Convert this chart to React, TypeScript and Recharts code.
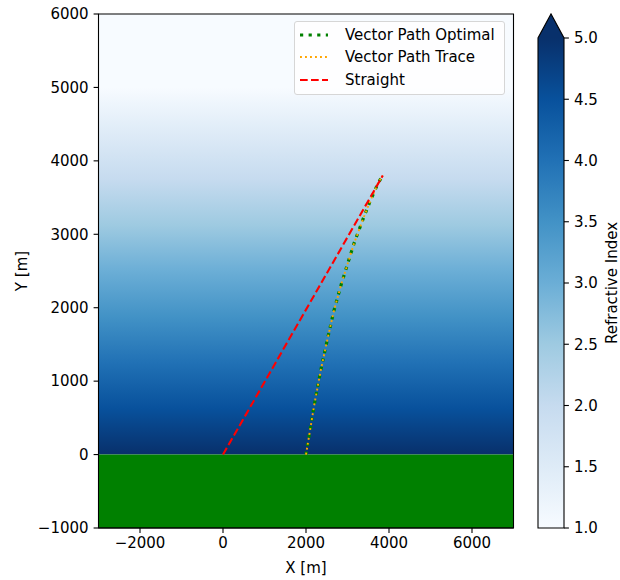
import {
  ComposedChart,
  Line,
  XAxis,
  YAxis,
  ReferenceArea,
} from "recharts";

const FONT = "DejaVu Sans";
const FS = 15;

// axis ticks
const xTicks = [-2000, 0, 2000, 4000, 6000];
const yTicks = [-1000, 0, 1000, 2000, 3000, 4000, 5000, 6000];
const cbTicks = [1.0, 1.5, 2.0, 2.5, 3.0, 3.5, 4.0, 4.5, 5.0];

// ray path (x, y in metres)
const pathX = [2000, 2200, 2360, 2520, 2680, 2860, 2960, 3160, 3370, 3560, 3740, 3850];
const pathY = [0, 680, 1160, 1580, 1975, 2340, 2520, 2880, 3200, 3470, 3700, 3800];

// straight line from source to receiver
const straightX = [0, 3850];
const straightY = [0, 3800];

// refractive index profile: n = 5 at ground, falls to 1 at this height
const nTopHeight = 5000;
const nMin = 1;
const nMax = 5;

// matplotlib "Blues"
const blues = ["#f7fbff", "#deebf7", "#c6dbef", "#9ecae1", "#6baed6", "#4292c6", "#2171b5", "#08519c", "#08306b"];

const GREEN = "#008000";
const ORANGE = "#ffa500";
const RED = "#ff0000";

const optimal = pathX.map((x, i) => ({ x, y: pathY[i] }));
const straight = straightX.map((x, i) => ({ x, y: straightY[i] }));
const cbData = cbTicks.map((n) => ({ x: 0.5, n }));

const fmt = (v: number) => (v < 0 ? "\u2212" + Math.abs(v) : String(v));

const tickStyle = { fontFamily: FONT, fontSize: FS, fill: "#000" };

const legendItems = [
  { label: "Vector Path Optimal", color: GREEN, width: 3.2, dash: "3.2 5.4" },
  { label: "Vector Path Trace", color: ORANGE, width: 1.9, dash: "1.9 3.1" },
  { label: "Straight", color: RED, width: 2.1, dash: "7.7 3.3" },
];

function LegendBox() {
  return (
    <div
      style={{
        position: "absolute",
        left: 294,
        top: 21,
        width: 211,
        height: 74,
        boxSizing: "border-box",
        border: "1px solid #d6d6d6",
        borderRadius: 3,
        background: "rgba(255,255,255,0.8)",
        fontFamily: FONT,
        fontSize: FS,
        color: "#000",
        paddingTop: 2,
      }}
    >
      {legendItems.map((it) => (
        <div key={it.label} style={{ display: "flex", alignItems: "center", height: 22.3, whiteSpace: "nowrap" }}>
          <svg width={50} height={10} style={{ flex: "none" }}>
            <line x1={5} x2={33} y1={5} y2={5} stroke={it.color} strokeWidth={it.width} strokeDasharray={it.dash} />
          </svg>
          <span>{it.label}</span>
        </div>
      ))}
    </div>
  );
}

function ColorbarShape(props: any) {
  const { x, y, width, height } = props;
  const apex = 24;
  const outline = `M${x},${y + height} L${x},${y} L${x + width / 2},${y - apex} L${x + width},${y} L${x + width},${y + height} Z`;
  return (
    <g>
      <rect x={x} y={y} width={width} height={height} fill="url(#cbGrad)" />
      <path d={`M${x},${y} L${x + width / 2},${y - apex} L${x + width},${y} Z`} fill={blues[8]} />
      <path d={outline} fill="none" stroke="#000" strokeWidth={1.1} />
    </g>
  );
}

function CbLabel(props: any) {
  const vb = props.viewBox || {};
  const cx = 111.5;
  const cy = vb.y + vb.height / 2;
  return (
    <text
      x={cx}
      y={cy}
      transform={`rotate(-90 ${cx} ${cy})`}
      textAnchor="middle"
      dominantBaseline="central"
      style={tickStyle}
    >
      Refractive Index
    </text>
  );
}

export default function App() {
  const bgTop = (6000 - nTopHeight) / 6000; // part of the 0..6000 box above the n = 1 height
  return (
    <div style={{ position: "absolute", left: 0, top: 0, width: 620, height: 580, background: "#fff" }}>
      <div style={{ position: "absolute", left: 0, top: 0 }}>
        <ComposedChart width={540} height={580} margin={{ top: 14, right: 26.5, bottom: 12, left: 38.5 }}>
          <defs>
            <linearGradient id="bgGrad" x1="0" y1="0" x2="0" y2="1">
              <stop offset={0} stopColor={blues[0]} />
              {blues.map((c, i) => (
                <stop key={i} offset={bgTop + (1 - bgTop) * (i / 8)} stopColor={c} />
              ))}
            </linearGradient>
          </defs>
          <XAxis
            dataKey="x"
            type="number"
            domain={[-3000, 7000]}
            ticks={xTicks}
            tickFormatter={fmt}
            allowDataOverflow
            height={40}
            tick={tickStyle}
            tickSize={4.9}
            tickMargin={4}
            stroke="#000"
            tickLine={{ stroke: "#000", strokeWidth: 1.1 }}
            label={{ value: "X [m]", position: "insideBottom", offset: -5, style: { ...tickStyle, textAnchor: "middle" } }}
          />
          <YAxis
            dataKey="y"
            type="number"
            domain={[-1000, 6000]}
            ticks={yTicks}
            tickFormatter={fmt}
            allowDataOverflow
            width={60}
            tick={tickStyle}
            tickSize={4.9}
            tickMargin={5}
            stroke="#000"
            tickLine={{ stroke: "#000", strokeWidth: 1.1 }}
            label={{ value: "Y [m]", angle: -90, position: "insideLeft", offset: -17, style: { ...tickStyle, textAnchor: "middle" } }}
          />
          <ReferenceArea x1={-3000} x2={7000} y1={0} y2={6000} fill="url(#bgGrad)" fillOpacity={1} stroke="none" />
          <ReferenceArea x1={-3000} x2={7000} y1={-1000} y2={0} fill={GREEN} fillOpacity={1} stroke="none" />
          <Line
            data={optimal}
            dataKey="y"
            type="linear"
            stroke={GREEN}
            strokeWidth={3.2}
            strokeDasharray="3.2 5.4"
            dot={false}
            activeDot={false}
            isAnimationActive={false}
          />
          <Line
            data={optimal}
            dataKey="y"
            type="linear"
            stroke={ORANGE}
            strokeWidth={1.9}
            strokeDasharray="1.9 3.1"
            dot={false}
            activeDot={false}
            isAnimationActive={false}
          />
          <Line
            data={straight}
            dataKey="y"
            type="linear"
            stroke={RED}
            strokeWidth={2.1}
            strokeDasharray="7.7 3.3"
            dot={false}
            activeDot={false}
            isAnimationActive={false}
          />
          <ReferenceArea x1={-3000} x2={7000} y1={-1000} y2={6000} fill="none" stroke="#000" strokeWidth={1.1} />
        </ComposedChart>
      </div>
      <LegendBox />
      <div style={{ position: "absolute", left: 500, top: 0 }}>
        <ComposedChart width={120} height={580} data={cbData} margin={{ top: 38, right: 0, bottom: 52, left: 38 }}>
          <defs>
            <linearGradient id="cbGrad" x1="0" y1="1" x2="0" y2="0">
              {blues.map((c, i) => (
                <stop key={i} offset={i / 8} stopColor={c} />
              ))}
            </linearGradient>
          </defs>
          <XAxis type="number" dataKey="x" domain={[0, 1]} hide />
          <YAxis
            orientation="right"
            type="number"
            dataKey="n"
            domain={[nMin, nMax]}
            ticks={cbTicks}
            tickFormatter={(v: number) => v.toFixed(1)}
            width={56}
            tick={tickStyle}
            tickSize={4.9}
            tickMargin={5}
            axisLine={false}
            tickLine={{ stroke: "#000", strokeWidth: 1.1 }}
            label={<CbLabel />}
          />
          <ReferenceArea x1={0} x2={1} y1={nMin} y2={nMax} shape={<ColorbarShape />} fillOpacity={1} />
        </ComposedChart>
      </div>
    </div>
  );
}
